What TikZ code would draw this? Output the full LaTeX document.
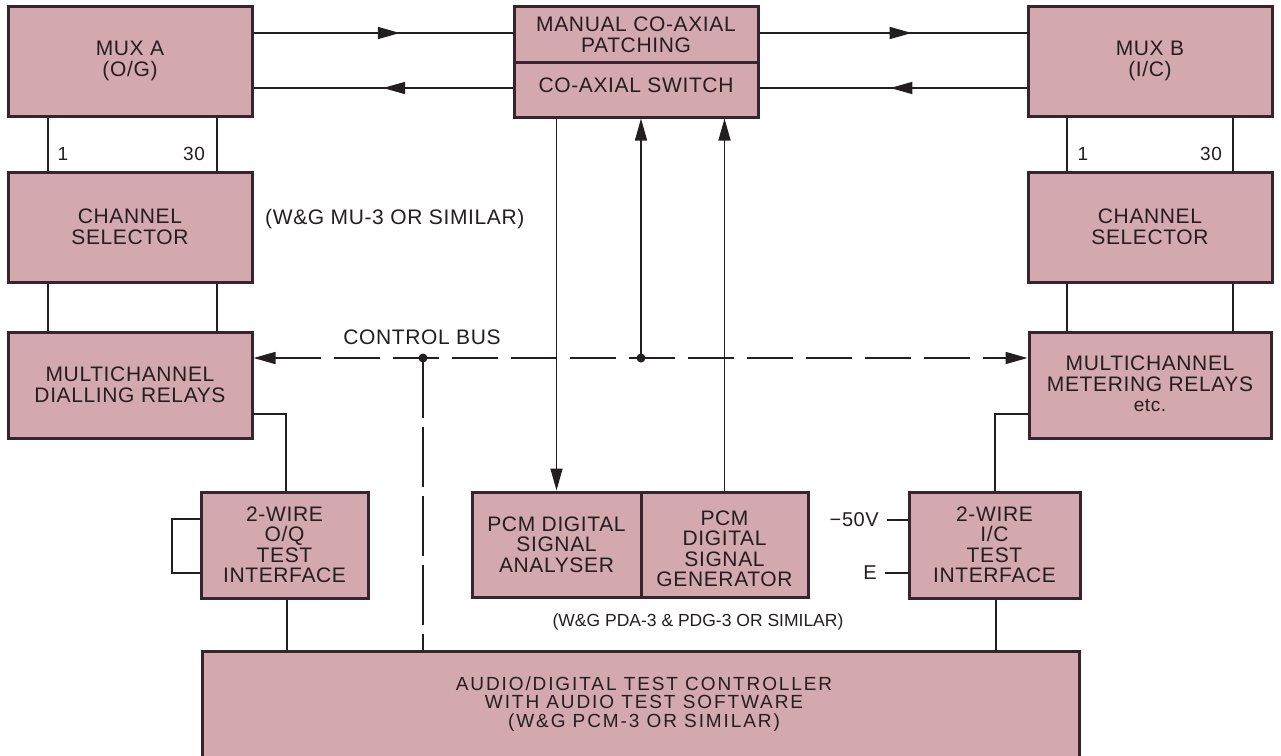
\documentclass[tikz,border=0pt]{standalone}
\usepackage{fontspec}
\setmainfont{Liberation Sans}[LetterSpace=3]
\newfontfamily\ctrlfont{Liberation Sans}[LetterSpace=10]
\newfontfamily\plainfont{Liberation Sans}
\usetikzlibrary{arrows.meta,decorations.markings}
\definecolor{boxfill}{RGB}{212,168,175}
\definecolor{boxline}{RGB}{55,36,46}
\definecolor{ink}{RGB}{35,30,32}
\begin{document}
\begin{tikzpicture}[x=1pt,y=-1pt,
  blk/.style={draw=boxline, line width=3pt, fill=boxfill, minimum width=244pt,
    minimum height=110pt, inner sep=0pt, align=center, text=ink,
    font=\fontsize{21}{20.5}\selectfont},
  txt/.style={inner sep=0pt, align=center, text=ink, font=\fontsize{21}{20.5}\selectfont},
  lbl/.style={inner sep=0pt, text=ink, font=\fontsize{19}{20}\selectfont},
  wire/.style={draw=ink, line width=1.5pt},
  tipend/.style={-{Triangle[length=22pt,width=12pt]}},
  tipboth/.style={{Triangle[length=22pt,width=12pt]}-{Triangle[length=22pt,width=12pt]}},
  midarrow/.style={postaction={decorate}, decoration={markings,
    mark=at position #1 with {\arrow{Triangle[length=22pt,width=12pt]}}}},
  busline/.style={draw=ink, line width=1.5pt, dash pattern=on 46pt off 13pt},
  vbus/.style={draw=ink, line width=1.5pt, dash pattern=on 60pt off 9pt},
  dotnode/.style={circle, fill=ink, inner sep=0pt, minimum size=9pt}
]
\useasboundingbox (0,0) rectangle (1281,755);
\clip (0,0) rectangle (1281,755);
\fill[white] (0,0) rectangle (1281,755);

% top row
\node[blk] (muxA) at (130,61) {MUX A\\(O/G)};
\node[blk, minimum height=111pt] (coax) at (636,61.5) {};
\draw[draw=boxline, line width=3pt] (coax.west |- 0,62) -- (coax.east |- 0,62);
\node[txt] (coaxt) at (636,35) {MANUAL CO-AXIAL\\PATCHING};
\node[txt] (coaxb) at (636,85) {CO-AXIAL SWITCH};
\node[blk] (muxB) at (1150,61) {MUX B\\(I/C)};

% channel selectors
\node[blk] (chA) at (130,227) {CHANNEL\\SELECTOR};
\node[blk] (chB) at (1150,227) {CHANNEL\\SELECTOR};
\node[txt, anchor=west] (mu3) at (265,219) {(W\&G MU-3 OR SIMILAR)};

% relays
\node[blk, minimum height=106pt] (dial) at (130,385) {MULTICHANNEL\\DIALLING RELAYS};
\node[blk, minimum height=106pt, minimum width=242pt] (meter) at (1150,385) {};
\node[txt] (metert) at (1150,384) {MULTICHANNEL\\METERING RELAYS\\{\fontsize{19}{20}\selectfont etc.}};

% lower row
\node[blk, minimum width=167pt, minimum height=106pt] (oq) at (284.5,545) {2-WIRE\\O/Q\\TEST\\INTERFACE};
\node[blk, minimum width=169pt, minimum height=105pt] (an) at (556.5,544.5) {PCM DIGITAL\\SIGNAL\\ANALYSER};
\node[blk, minimum width=167pt, minimum height=105pt] (gen) at (724.5,544.5) {};
\node[txt] (gent) at (724.5,549) {PCM\\DIGITAL\\SIGNAL\\GENERATOR};
\node[blk, minimum width=171pt, minimum height=106pt] (ic) at (994.5,545) {2-WIRE\\I/C\\TEST\\INTERFACE};
\node[txt, font=\plainfont\fontsize{17.5}{20}\selectfont] (pda) at (698,622) {(W\&G PDA-3 \& PDG-3 OR SIMILAR)};

% controller
\node[blk, minimum width=877pt, minimum height=120pt] (ctrl) at (640.5,711) {};
\node[txt, font=\ctrlfont\fontsize{19}{18.5}\selectfont] (ctrltxt) at (644,704) {AUDIO/DIGITAL TEST CONTROLLER\\WITH AUDIO TEST SOFTWARE\\(W\&G PCM-3 OR SIMILAR)};

% coax connections
\draw[wire, midarrow=0.565] (muxA.east |- 0,33) -- (coax.west |- 0,33);
\draw[wire, midarrow=0.5] (coax.west |- 0,88) -- (muxA.east |- 0,88);
\draw[wire, midarrow=0.57] (coax.east |- 0,33) -- (muxB.west |- 0,33);
\draw[wire, midarrow=0.51] (muxB.west |- 0,88) -- (coax.east |- 0,88);

% mux to channel selector
\draw[wire] (muxA.south -| 48,0) -- (chA.north -| 48,0);
\draw[wire] (muxA.south -| 217,0) -- (chA.north -| 217,0);
\draw[wire] (muxB.south -| 1067,0) -- (chB.north -| 1067,0);
\draw[wire] (muxB.south -| 1233,0) -- (chB.north -| 1233,0);
\node[lbl] (a1) at (63,154) {1};
\node[lbl] (a30) at (194,154) {30};
\node[lbl] (b1) at (1083,154) {1};
\node[lbl] (b30) at (1211,154) {30};

% channel selector to relays
\draw[wire] (chA.south -| 48,0) -- (dial.north -| 48,0);
\draw[wire] (chA.south -| 217,0) -- (dial.north -| 217,0);
\draw[wire] (chB.south -| 1067,0) -- (meter.north -| 1067,0);
\draw[wire] (chB.south -| 1233,0) -- (meter.north -| 1233,0);

% control bus
\coordinate (bus1) at (423,358);
\coordinate (bus2) at (641,358);
\draw[busline, tipboth] (dial.east |- bus1) -- (meter.west |- bus1);
\node[txt] (cbus) at (422,337) {CONTROL BUS};
\draw[vbus] (bus1) -- (bus1 |- ctrl.north);
\draw[wire, tipend] (bus2) -- (bus2 |- coax.south);
\node[dotnode] (d1) at (bus1) {};
\node[dotnode] (d2) at (bus2) {};

% coax switch to PCM instruments
\draw[wire, tipend] (coax.south -| an.north) -- (an.north);
\draw[wire, tipend] (gen.north) -- (gen.north |- coax.south);

% relays to 2-wire interfaces
\draw[wire] (dial.east |- 0,414) -| (oq.north -| 286,0);
\draw[wire] (meter.west |- 0,414) -| (ic.north -| 995,0);
\draw[wire] (oq.west |- 0,519) -- (172,519) -- (172,573) -- (oq.west |- 0,573);
\node[lbl, anchor=east, font=\fontsize{20}{20}\selectfont] (m50) at (879,520) {−50V};
\node[lbl, anchor=east, font=\fontsize{20}{20}\selectfont] (ee) at (877,573) {E};
\draw[wire] (887,520) -- (ic.west |- 0,520);
\draw[wire] (885,573) -- (ic.west |- 0,573);

% to controller
\draw[wire] (oq.south -| 287,0) -- (ctrl.north -| 287,0);
\draw[wire] (ic.south -| 996,0) -- (ctrl.north -| 996,0);
\end{tikzpicture}
\end{document}
